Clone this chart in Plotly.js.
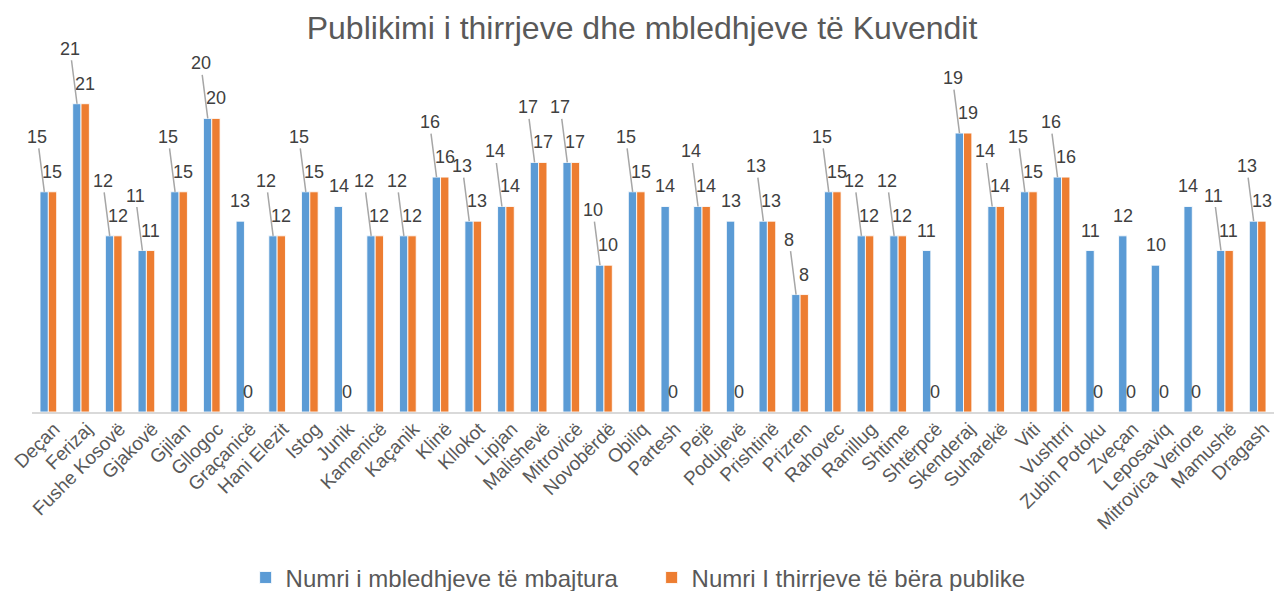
<!DOCTYPE html>
<html>
<head>
<meta charset="utf-8">
<script src="https://cdn.plot.ly/plotly-3.0.1.min.js"></script>
<style>
html,body{margin:0;padding:0;background:#fff;}
#chart{width:1277px;height:591px;}
</style>
</head>
<body>
<div id="chart"></div>
<script>
var categories = ["Deçan","Ferizaj","Fushe Kosovë","Gjakovë","Gjilan","Gllogoc","Graçanicë","Hani Elezit","Istog","Junik","Kamenicë","Kaçanik","Klinë","Kllokot","Lipjan","Malishevë","Mitrovicë","Novobërdë","Obiliq","Partesh","Pejë","Podujevë","Prishtinë","Prizren","Rahovec","Ranillug","Shtime","Shtërpcë","Skenderaj","Suharekë","Viti","Vushtrri","Zubin Potoku","Zveçan","Leposaviq","Mitrovica Veriore","Mamushë","Dragash"];
var meetingsHeld = [15,21,12,11,15,20,13,12,15,14,12,12,16,13,14,17,17,10,15,14,14,13,13,8,15,12,12,11,19,14,15,16,11,12,10,14,11,13];
var publicCalls = [15,21,12,11,15,20,0,12,15,0,12,12,16,13,14,17,17,10,15,0,14,0,13,8,15,12,12,0,19,14,15,16,0,0,0,0,11,13];
var seriesNames = ["Numri i mbledhjeve të mbajtura","Numri I thirrjeve të bëra publike"];
var chartTitle = "Publikimi i thirrjeve dhe mbledhjeve të Kuvendit";

var FONT = "Liberation Sans, Arial, sans-serif";
var BLUE = "#5B9BD5", ORANGE = "#ED7D31";

var traces = [
  {type:"bar", name:seriesNames[0], x:categories, y:meetingsHeld,
   marker:{color:BLUE, line:{color:"rgba(255,255,255,0.85)", width:1}}},
  {type:"bar", name:seriesNames[1], x:categories, y:publicCalls,
   marker:{color:ORANGE, line:{color:"rgba(255,255,255,0.85)", width:1}}}
];

var annotations = [];
var labelFont = {family:FONT, size:18, color:"#404040"};
for (var i = 0; i < categories.length; i++) {
  annotations.push({x:categories[i], y:publicCalls[i], xref:"x", yref:"y",
    text:String(publicCalls[i]), showarrow:false, xshift:4, yshift:20,
    xanchor:"center", yanchor:"middle", font:labelFont});
  if (publicCalls[i] > 0) {
    annotations.push({x:categories[i], y:meetingsHeld[i], xref:"x", yref:"y",
      text:String(meetingsHeld[i]), showarrow:true, arrowhead:0, arrowwidth:1.5,
      arrowcolor:"#A6A6A6", standoff:0, ax:-7, ay:-55, xshift:-4,
      font:labelFont});
  } else {
    annotations.push({x:categories[i], y:meetingsHeld[i], xref:"x", yref:"y",
      text:String(meetingsHeld[i]), showarrow:false, xshift:-4, yshift:20,
      xanchor:"center", yanchor:"middle", font:labelFont});
  }
}

var layout = {
  width:1277, height:591,
  margin:{l:32, r:3, t:45, b:179, autoexpand:false},
  paper_bgcolor:"#fff", plot_bgcolor:"#fff",
  font:{family:FONT, color:"#595959"},
  title:{text:chartTitle, font:{family:FONT, size:32, color:"#595959"},
         x:642/1277, xanchor:"center", y:1-28/591, yanchor:"middle", xref:"container", yref:"container"},
  barmode:"group", bargap:0.49, bargroupgap:0,
  showlegend:true,
  legend:{orientation:"h", x:0.172, xanchor:"left", y:-0.452, yanchor:"middle",
          font:{family:FONT, size:24, color:"#595959"}, entrywidth:361, entrywidthmode:"pixels",
          bgcolor:"rgba(0,0,0,0)"},
  xaxis:{type:"category", range:[-0.5, categories.length-0.5], autorange:false,
         tickangle:-45, showline:true, linecolor:"#D9D9D9", linewidth:1.5,
         ticks:"", showgrid:false, zeroline:false, automargin:false,
         tickfont:{family:FONT, size:19, color:"#595959"}, ticklabelstandoff:-3, ticklabelshift:6},
  yaxis:{range:[0,25], autorange:false, visible:false, showgrid:false, zeroline:false, automargin:false},
  annotations:annotations
};

Plotly.newPlot("chart", traces, layout, {staticPlot:true, displayModeBar:false});
</script>
</body>
</html>
